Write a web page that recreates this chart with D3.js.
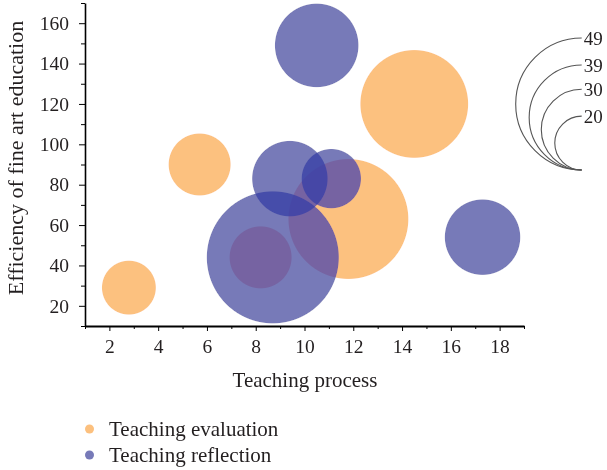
<!DOCTYPE html>
<html lang="en">
<head>
    <meta charset="UTF-8">
    <title>Bubble chart</title>
    <script src="https://cdn.jsdelivr.net/npm/d3@7/dist/d3.min.js"></script>
    <style>
        body { margin: 0; background: #fff; }
        #chart { position: relative; width: 607px; height: 470px; }
        #chart canvas, #chart svg { position: absolute; left: 0; top: 0; }
        text { font-family: "Liberation Serif", "DejaVu Serif", serif; fill: #231f20; }
    </style>
</head>
<body>
    <div id="chart"></div>
    <script>
        // data
        const evalX = [2.8, 5.7, 14.5, 11.8, 8.2];
        const evalY = [29, 90, 120, 63, 44];
        const evalSize = [20, 23, 40, 44.5, 23];

        const reflX = [10.5, 9.4, 11.1, 17.3, 8.7];
        const reflY = [149, 83, 83, 54, 44];
        const reflSize = [31, 28, 22, 28, 49];

        const xTicks = [2, 4, 6, 8, 10, 12, 14, 16, 18];
        const yTicks = [20, 40, 60, 80, 100, 120, 140, 160];
        const sizeLegend = [49, 39, 30, 20];
        const seriesNames = ["Teaching evaluation", "Teaching reflection"];
        const colors = ["#fcb34d", "#3841a7"];
        const bubbleAlpha = 0.85;

        const width = 607, height = 470;
        const font = "'Liberation Serif', 'DejaVu Serif', serif";

        const x = d3.scaleLinear().domain([1, 19]).range([85, 524]);
        const y = d3.scaleLinear().domain([10, 170]).range([326, 3]);
        const r = d3.scaleLinear().domain([0, 49]).range([0, 66]);

        const chart = d3.select("#chart");
        const canvas = chart.append("canvas")
            .attr("width", width)
            .attr("height", height);
        const svg = chart.append("svg")
            .attr("width", width)
            .attr("height", height);

        // bubbles: the original blends the transparent fills in linear light,
        // so composite them by hand on a canvas
        const toLin = v => { v /= 255; return v <= 0.04045 ? v / 12.92 : Math.pow((v + 0.055) / 1.055, 2.4); };
        const toSrgb = v => { v = v <= 0.0031308 ? v * 12.92 : 1.055 * Math.pow(v, 1 / 2.4) - 0.055; return Math.round(Math.max(0, Math.min(1, v)) * 255); };

        const bubbles = [];
        evalX.forEach((d, i) => bubbles.push({ x: d, y: evalY[i], s: evalSize[i], c: colors[0] }));
        reflX.forEach((d, i) => bubbles.push({ x: d, y: reflY[i], s: reflSize[i], c: colors[1] }));

        const buf = new Float32Array(width * height * 3).fill(1);
        bubbles.forEach(b => {
            const cx = x(b.x), cy = y(b.y), rr = r(b.s);
            const col = d3.rgb(b.c);
            const lin = [toLin(col.r), toLin(col.g), toLin(col.b)];
            const x0 = Math.max(0, Math.floor(cx - rr - 1)), x1 = Math.min(width - 1, Math.ceil(cx + rr + 1));
            const y0 = Math.max(0, Math.floor(cy - rr - 1)), y1 = Math.min(height - 1, Math.ceil(cy + rr + 1));
            for (let py = y0; py <= y1; py++) {
                for (let px = x0; px <= x1; px++) {
                    const dist = Math.hypot(px + 0.5 - cx, py + 0.5 - cy);
                    const cov = Math.max(0, Math.min(1, rr - dist + 0.5));
                    if (cov <= 0) continue;
                    const a = bubbleAlpha * cov;
                    const k = (py * width + px) * 3;
                    for (let c = 0; c < 3; c++) buf[k + c] = buf[k + c] * (1 - a) + lin[c] * a;
                }
            }
        });
        const ctx = canvas.node().getContext("2d");
        const img = ctx.createImageData(width, height);
        for (let i = 0; i < width * height; i++) {
            img.data[i * 4] = toSrgb(buf[i * 3]);
            img.data[i * 4 + 1] = toSrgb(buf[i * 3 + 1]);
            img.data[i * 4 + 2] = toSrgb(buf[i * 3 + 2]);
            img.data[i * 4 + 3] = 255;
        }
        ctx.putImageData(img, 0, 0);

        // y axis
        const yMinor = d3.range(10, 171, 10).filter(v => !yTicks.includes(v));
        svg.append("g")
            .attr("transform", "translate(85,0)")
            .call(d3.axisLeft(y).tickValues(yMinor).tickSize(4).tickSizeOuter(0).tickFormat(""))
            .call(g => g.select(".domain").remove());
        const yAxis = svg.append("g")
            .attr("transform", "translate(85,0)")
            .call(d3.axisLeft(y).tickValues(yTicks).tickSize(6).tickPadding(10).tickSizeOuter(0));
        yAxis.select(".domain").attr("stroke-width", 1.6);
        yAxis.selectAll("text")
            .style("font-family", font)
            .style("font-size", "19.5px")
            .attr("fill", "#231f20");

        // x axis
        const xMinor = d3.range(1, 20, 2);
        svg.append("g")
            .attr("transform", "translate(0,326)")
            .call(d3.axisBottom(x).tickValues(xMinor).tickSize(3).tickSizeOuter(0).tickFormat(""))
            .call(g => g.select(".domain").remove());
        const xAxis = svg.append("g")
            .attr("transform", "translate(0,326)")
            .call(d3.axisBottom(x).tickValues(xTicks).tickSize(5).tickPadding(8).tickSizeOuter(0));
        xAxis.select(".domain").attr("stroke-width", 2);
        xAxis.selectAll("text")
            .style("font-family", font)
            .style("font-size", "19.5px")
            .attr("fill", "#231f20");

        // axis titles
        svg.append("text")
            .attr("x", 305)
            .attr("y", 387)
            .attr("text-anchor", "middle")
            .style("font-size", "21px")
            .text("Teaching process");

        svg.append("text")
            .attr("transform", "translate(23,158) rotate(-90)")
            .attr("text-anchor", "middle")
            .style("font-size", "22px")
            .text("Efficiency of fine art education");

        // size legend: half circles tangent at the bottom
        const lx = 581.7, ly = 170;
        const sizeG = svg.append("g");
        sizeLegend.forEach(v => {
            const rr = r(v);
            sizeG.append("path")
                .attr("d", `M${lx},${ly - 2 * rr} A${rr},${rr} 0 0,0 ${lx},${ly}`)
                .attr("fill", "none")
                .attr("stroke", "#555")
                .attr("stroke-width", 1.1);
            sizeG.append("text")
                .attr("x", lx + 2)
                .attr("y", ly - 2 * rr)
                .attr("dy", "0.35em")
                .style("font-size", "19px")
                .text(v);
        });

        // series legend
        const legend = svg.append("g");
        seriesNames.forEach((name, i) => {
            legend.append("circle")
                .attr("cx", 89.5)
                .attr("cy", 429 + i * 26)
                .attr("r", 4.5)
                .style("fill", i === 0 ? "#fcc07e" : "#777ab8");
            legend.append("text")
                .attr("x", 109)
                .attr("y", 429 + i * 26)
                .attr("dy", "0.35em")
                .style("font-size", "21px")
                .text(name);
        });
    </script>
</body>
</html>
